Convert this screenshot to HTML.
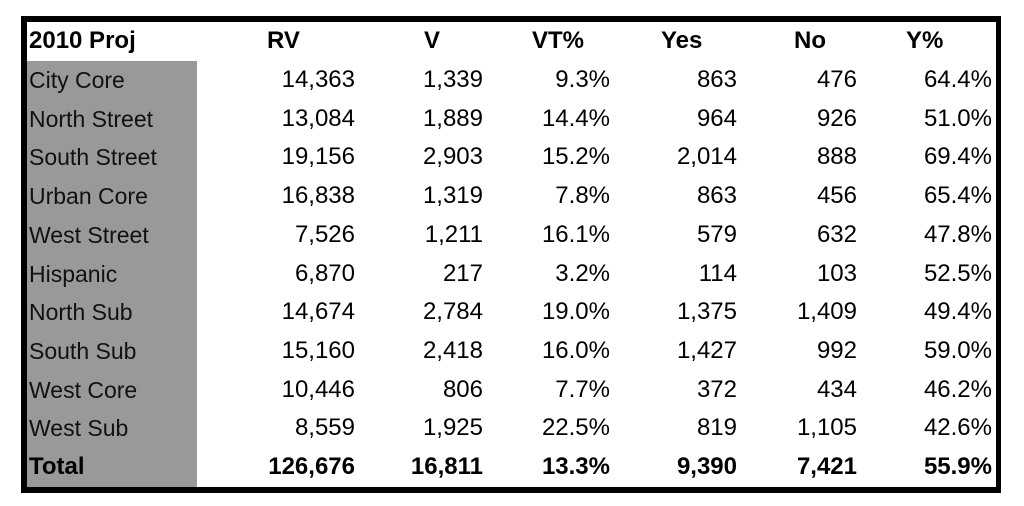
<!DOCTYPE html>
<html><head><meta charset="utf-8"><style>
body{margin:0;width:1024px;height:506px;background:#fff;position:relative;overflow:hidden;font-family:"Liberation Sans",sans-serif;}
#tbl{position:absolute;left:21px;top:16px;width:969px;height:465px;border:6px solid #000;border-right-width:5px;}
.gray{position:absolute;left:0;top:39px;width:170px;bottom:0;background:#999;}
.row{position:absolute;left:0;width:969px;height:38.7px;}
.c{position:absolute;top:0;line-height:38.7px;font-size:24px;color:#000;white-space:nowrap;}
.name{left:2px;font-size:23px;color:#111;}
.r{text-align:right;}
.b{font-weight:bold;}
</style></head><body>
<div id="tbl">
<div class="gray"></div>
<div id="rows"></div>
</div>
<script>
const header=["2010 Proj","RV","V","VT%","Yes","No","Y%"];
const names=["City Core","North Street","South Street","Urban Core","West Street","Hispanic","North Sub","South Sub","West Core","West Sub","Total"];
const rv=["14,363","13,084","19,156","16,838","7,526","6,870","14,674","15,160","10,446","8,559","126,676"];
const v=["1,339","1,889","2,903","1,319","1,211","217","2,784","2,418","806","1,925","16,811"];
const vt=["9.3%","14.4%","15.2%","7.8%","16.1%","3.2%","19.0%","16.0%","7.7%","22.5%","13.3%"];
const yes=["863","964","2,014","863","579","114","1,375","1,427","372","819","9,390"];
const no=["476","926","888","456","632","103","1,409","992","434","1,105","7,421"];
const yp=["64.4%","51.0%","69.4%","65.4%","47.8%","52.5%","49.4%","59.0%","46.2%","42.6%","55.9%"];
const cols=[rv,v,vt,yes,no,yp];
const rightEdges=[328,456,583,710,830,965];
const headLeft=[240,397,505,634,767,879];
const keys=["rv","v","vt","yes","no","y-pct"];
const host=document.getElementById('rows');
function cell(row,txt,cls,style){const d=document.createElement('div');d.className='c '+cls;d.textContent=txt;Object.assign(d.style,style);row.appendChild(d);return d;}
let h=document.createElement('div');h.className='row';h.style.top='0px';


host.appendChild(h);
let hc=cell(h,header[0],'name b',{color:'#000',fontSize:'24px'});


header.slice(1).forEach((t,i)=>{const d=cell(h,t,'b',{left:headLeft[i]+'px'});

});
names.forEach((n,ri)=>{
 const r=document.createElement('div');r.className='row';r.style.top=(39+ri*38.7)+'px';
 const total=n==='Total';
 
 
 host.appendChild(r);
 const nc=cell(r,n,'name'+(total?' b':''),total?{color:'#000',fontSize:'24px'}:{});
 
 
 cols.forEach((c,ci)=>{const d=cell(r,c[ri],'r'+(total?' b':''),{right:(969-rightEdges[ci])+'px'});
 
 });
});
</script>
</body></html>
